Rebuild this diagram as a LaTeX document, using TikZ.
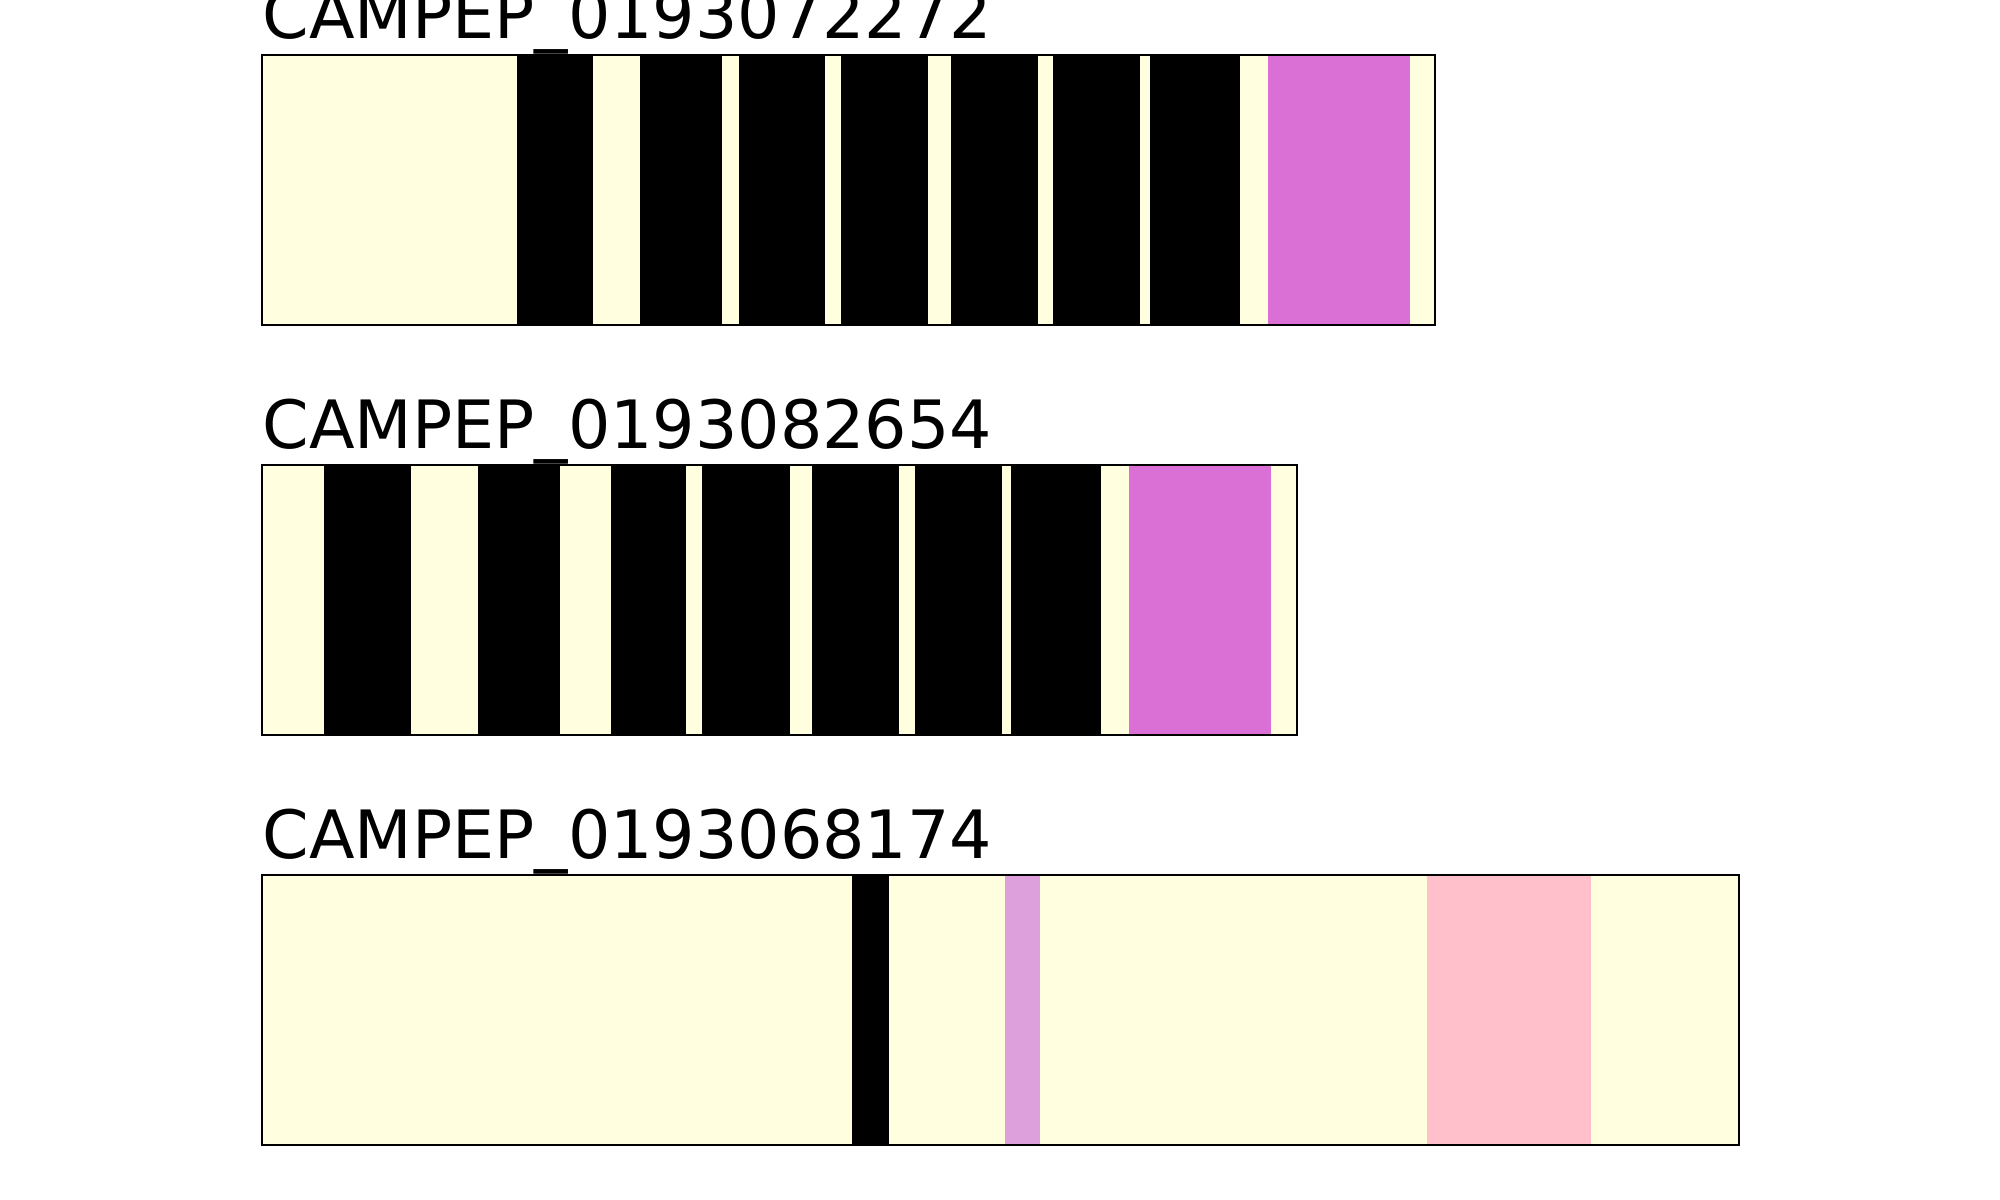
\documentclass[tikz,border=0pt]{standalone}
\usepackage{fontspec}
\setmainfont{DejaVu Sans}
\usepackage{xcolor}
\usepackage{tikz}

\definecolor{cream}{HTML}{FFFFE0}
\definecolor{orchidc}{HTML}{DA70D6}
\definecolor{plumc}{HTML}{DDA0DD}
\definecolor{pinkc}{HTML}{FFC0CB}
\newcommand{\usc}{\char"5F\relax}

\begin{document}
\begin{tikzpicture}[x=0.01cm,y=-0.01cm,
  lbl/.style={anchor=base west,inner sep=0pt,font=\fontsize{18.95}{22}\selectfont},
  band/.style={fill=cream,draw=none},
  frame/.style={draw=black,line width=0.65pt}]
  \useasboundingbox[fill=white] (0,0) rectangle (2000,1200);
  % row 1
  \node[lbl] (t1) at (262,38) {CAMPEP\usc 0193072272};
  \fill[band] (262,55) rectangle (1435,325);
  \foreach \a/\b in {517/593,640/722,739/825,841/928,951/1038,1053/1140,1150/1240}
    \fill[black] (\a,55) rectangle (\b,325);
  \fill[orchidc] (1268,55) rectangle (1410,325);
  \draw[frame] (262,55) rectangle (1435,325);
  % row 2
  \node[lbl] (t2) at (262,448) {CAMPEP\usc 0193082654};
  \fill[band] (262,465) rectangle (1297,735);
  \foreach \a/\b in {324/411,478/560,611/686,702/790,812/899,915/1002,1011/1101}
    \fill[black] (\a,465) rectangle (\b,735);
  \fill[orchidc] (1129,465) rectangle (1271,735);
  \draw[frame] (262,465) rectangle (1297,735);
  % row 3
  \node[lbl] (t3) at (262,858) {CAMPEP\usc 0193068174};
  \fill[band] (262,875) rectangle (1739,1145);
  \fill[black] (852,875) rectangle (889,1145);
  \fill[plumc] (1005,875) rectangle (1040,1145);
  \fill[pinkc] (1427,875) rectangle (1591,1145);
  \draw[frame] (262,875) rectangle (1739,1145);
\end{tikzpicture}
\end{document}
